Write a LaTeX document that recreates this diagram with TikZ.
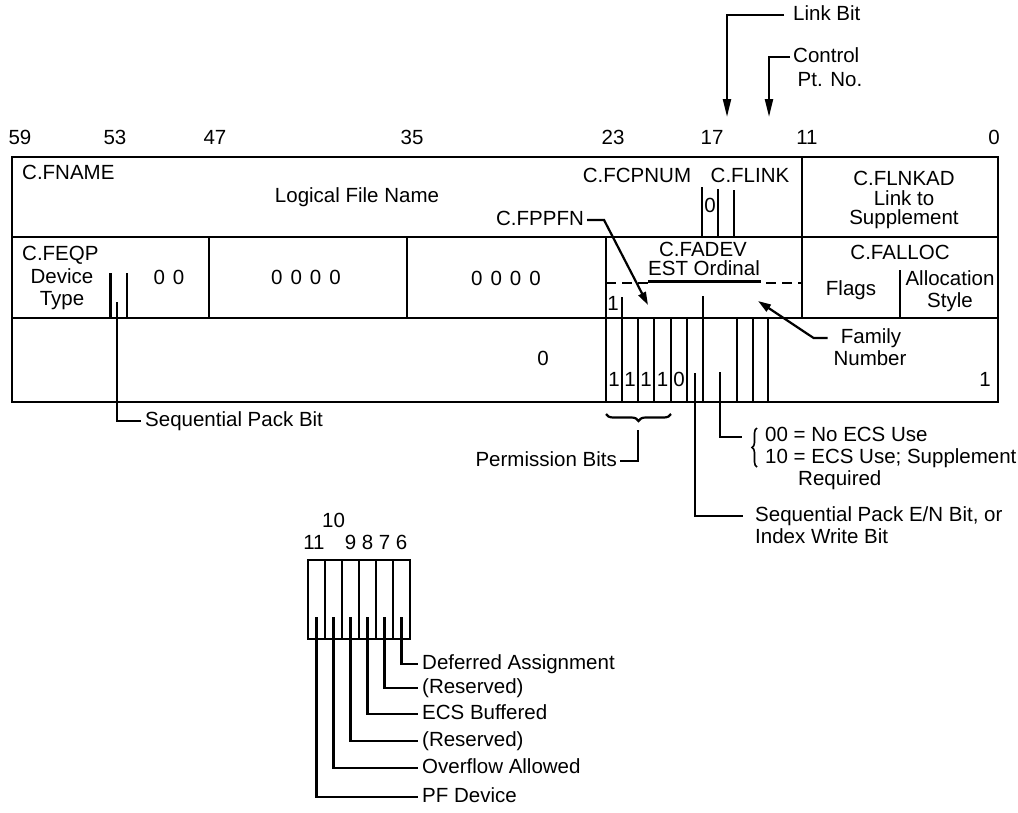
\documentclass[tikz,border=0pt]{standalone}
\usepackage{fontspec}
\setmainfont{Liberation Sans}
\usetikzlibrary{arrows.meta,decorations.pathreplacing}
\begin{document}
\begin{tikzpicture}[x=1pt,y=-1pt,
  t/.style={font=\fontsize{20.5}{22}\selectfont, inner sep=0pt, text height=14.5pt, text depth=4pt},
  frame/.style={line width=2.8pt},
  ln/.style={line width=2.2pt},
  tip/.style={-{Triangle[length=18pt,width=8pt]}},
  stip/.style={-{Triangle[length=13pt,width=8pt]}}]
\useasboundingbox (0,0) rectangle (1018,812);

% ---------- bit numbers ----------
\foreach \lab/\xx in {59/20,53/115,47/215,35/412,23/613,17/712,11/807,0/994}
  \node[t] (b\lab) at (\xx,139) {\lab};

% ---------- frame ----------
\draw[frame] (12,157) rectangle (998,402);
\draw[frame] (12,237) -- (998,237);
\draw[frame] (12,318) -- (998,318);
\draw[frame] (802,157) -- (802,318);
\draw[frame] (209,237) -- (209,318);
\draw[frame] (407,237) -- (407,318);
\draw[frame] (606,237) -- (606,402);

% ---------- row 1 ----------
\node[t,anchor=west] (fname) at (22,174) {C.FNAME};
\node[t] (lfn) at (357,197) {Logical File Name};
\node[t] (fcpnum) at (637,177) {C.FCPNUM};
\node[t] (flink) at (750,177) {C.FLINK};
\draw[ln] (702,187) -- (702,237);
\draw[ln] (718,189) -- (718,237);
\draw[ln] (734,190) -- (734,237);
\node[t] (z17) at (710,207) {0};
\node[t] (flnkad) at (904,180) {C.FLNKAD};
\node[t] (linkto) at (904,200) {Link to};
\node[t] (supp) at (904,219) {Supplement};

% ---------- row 2 ----------
\node[t,anchor=west] (feqp) at (22,255) {C.FEQP};
\node[t] (device) at (62,278) {Device};
\node[t] (type) at (62,300) {Type};
\draw[ln] (110.5,273) -- (110.5,318);
\draw[ln] (127,273) -- (127,318);
\node[t] (zz) at (169,279) {0\hspace{8pt}0};
\node[t] (z4a) at (306,279) {0\hspace{8pt}0\hspace{8pt}0\hspace{8pt}0};
\node[t] (z4b) at (506,280) {0\hspace{8pt}0\hspace{8pt}0\hspace{8pt}0};
\node[t] (fadev) at (703,251) {C.FADEV};
\node[t] (est) at (704,270) {EST Ordinal};
\draw[ln,dash pattern=on 10pt off 6pt] (606,283) -- (648,283);
\draw[ln] (648,281.5) -- (761,281.5);
\draw[ln,dash pattern=on 10pt off 6pt] (766,283) -- (802,283);
\node[t] (one23) at (613,305) {1};
\draw[ln] (622,297) -- (622,402);
\draw[ln] (703,296) -- (703,402);
\node[t] (falloc) at (900,254) {C.FALLOC};
\node[t] (flags) at (851,290) {Flags};
\draw[ln] (900,270) -- (900,318);
\node[t] (alloc) at (950,280) {Allocation};
\node[t] (style) at (950,302) {Style};

% ---------- row 3 ----------
\foreach \xx in {638,654,671,687,737,753,768}
  \draw[ln] (\xx,318) -- (\xx,402);
\foreach \xx/\v in {614/1,630/1,646/1,662.5/1,679/0}
  \node[t] at (\xx,381) {\v};
\node[t] (zrow3) at (543,360) {0};
\node[t] (fam) at (871,338) {Family};
\node[t] (num) at (870,360) {Number};
\node[t] (onerow3) at (985,381) {1};

% ---------- pointers in main word ----------
\node[t,anchor=west] (linkbit) at (793,15) {Link Bit};
\coordinate (lbtip) at (727,117);
\draw[ln,tip] ([xshift=-9pt]linkbit.west) -| (lbtip);
\node[t,anchor=west] (ctl) at (793,57) {Control};
\node[t] (ptno) at (830,81) {Pt. No.};
\coordinate (cptip) at (769,117);
\draw[ln,tip] ([xshift=-3pt]ctl.west) -| (cptip);

\node[t] (fppfn) at (540,220) {C.FPPFN};
\coordinate (fptip) at (648,305);
\draw[ln,stip] ([xshift=3pt]fppfn.east) -- ++(17,0) -- (fptip);

\coordinate (famtip) at (758,301);
\draw[ln,stip] ([xshift=-13pt]fam.west) -- ++(-14,0) -- (famtip);

\node[t,anchor=west] (spb) at (145,421) {Sequential Pack Bit};
\coordinate (spbit) at (117,302);
\draw[ln] (spbit) |- ([xshift=-4pt]spb.west);

\draw[ln,decorate,decoration={brace,mirror,amplitude=7pt}] (606,414) -- (671,414);
\node[t,anchor=east] (perm) at (617,461) {Permission Bits};
\coordinate (permtop) at (638,430);
\draw[ln] ([xshift=3pt]perm.east) -| (permtop);

\coordinate (ecsbit) at (720,372);
\coordinate (seqbit) at (695,373);
\node[t,anchor=west] (ecs1) at (765,436) {00 = No ECS Use};
\node[t,anchor=west] (ecs2) at (765,458) {10 = ECS Use; Supplement};
\node[t,anchor=west] (ecs3) at (798,480) {Required};
\draw[line width=1.6pt,decorate,decoration={brace,amplitude=5pt}] (757,467) -- (757,428);
\draw[ln] (ecsbit) |- (742,437);
\node[t,anchor=west] (seq1) at (755,516) {Sequential Pack E/N Bit, or};
\node[t,anchor=west] (seq2) at (755,538) {Index Write Bit};
\draw[ln] (seqbit) |- ([xshift=-12pt]seq1.west);

% ---------- small flag diagram ----------
\node[t] (n10) at (333.5,522) {10};
\node[t] (n11) at (314,544) {11};
\node[t] (n9) at (350.5,544) {9};
\node[t] (n8) at (367.5,544) {8};
\node[t] (n7) at (384.5,544) {7};
\node[t] (n6) at (401.5,544) {6};
\draw[frame] (308,560) rectangle (410,639);
\foreach \xx in {325,342,359,376,393}
  \draw[ln] (\xx,560) -- (\xx,639);
\foreach \xx/\yy/\nm/\txt in {401.5/664/da/Deferred Assignment,
    384.5/688/r1/(Reserved),
    367.5/714/eb/ECS Buffered,
    350.5/741/r2/(Reserved),
    333.5/768/oa/Overflow Allowed,
    316.5/797/pf/PF Device}{
  \node[t,anchor=west] (\nm) at (422,\yy) {\txt};
  \coordinate (\nm bit) at (\xx,617);
  \draw[ln] (\nm bit) |- ([xshift=-4pt]\nm.west);
}
\end{tikzpicture}
\end{document}
